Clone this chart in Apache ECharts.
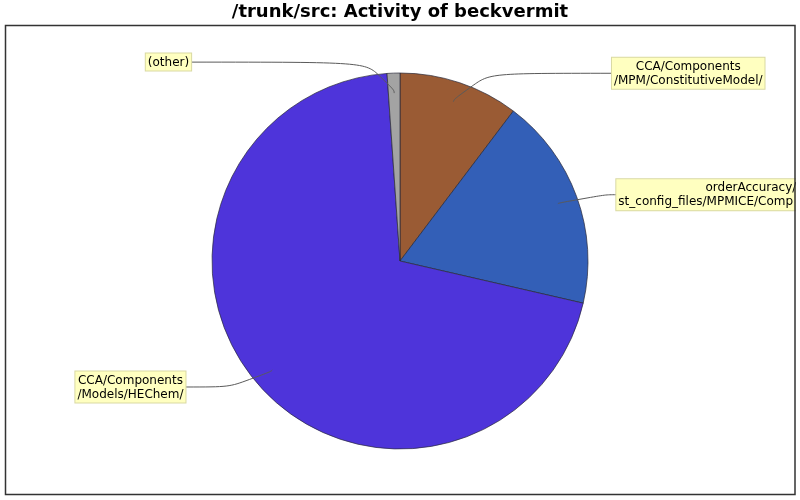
<!DOCTYPE html>
<html>
<head>
<meta charset="utf-8">
<script src="https://cdn.jsdelivr.net/npm/echarts@6/dist/echarts.min.js"></script>
<style>html,body{margin:0;padding:0;background:#fff}#c{width:800px;height:500px}</style>
</head>
<body>
<div id="c"></div>
<script>
// Data
const categories = [
  'CCA/Components/MPM/ConstitutiveModel/',
  'orderAccuracy/test_config_files/MPMICE/Components/',
  'CCA/Components/Models/HEChem/',
  '(other)'
];
const labelTexts = [
  '{c|CCA/Components}\n{c|/MPM/ConstitutiveModel/}',
  '{r|orderAccuracy/}\n{l|st_config_files/MPMICE/Comp}',
  '{c|CCA/Components}\n{c|/Models/HEChem/}',
  '{c|(other)}'
];
const values = [103, 183, 703, 11];
const colors = ['#9a5b34', '#335fb7', '#4e34da', '#a3a3a3'];

// label guide geometry (layout only)
const lineLen = [30, 26, 26, 31];
const lineLen2 = [149, 34, 67, 202];

const chart = echarts.init(document.getElementById('c'), null, {renderer: 'canvas'});
const font = 'DejaVu Sans';

const visibleData = categories.map((n, i) => ({
  name: n, value: values[i], itemStyle: {color: colors[i]}
}));
const labelData = categories.map((n, i) => ({
  name: n, value: values[i],
  label: {formatter: labelTexts[i], padding: i === 1 ? [2, 0, 1, 2] : [2, 2, 1, 2], width: i === 1 ? 178 : null},
  labelLine: {length: lineLen[i], length2: lineLen2[i]}
}));

chart.setOption({
  backgroundColor: '#ffffff',
  animation: false,
  title: {
    text: '/trunk/src: Activity of beckvermit',
    left: 'center', top: 1, padding: 0,
    textStyle: {fontFamily: font, fontWeight: 'bold', fontSize: 18, color: '#000', lineHeight: 22}
  },
  series: [
    {
      type: 'pie',
      center: [400, 261],
      radius: 188,
      startAngle: 90,
      clockwise: true,
      silent: true,
      label: {show: false},
      labelLine: {show: false},
      itemStyle: {borderColor: '#2a2a3a', borderWidth: 0.7},
      emphasis: {disabled: true},
      data: visibleData,
      z: 1
    },
    {
      type: 'pie',
      center: [400, 261],
      radius: 168,
      startAngle: 90,
      clockwise: true,
      silent: true,
      avoidLabelOverlap: false,
      itemStyle: {color: 'rgba(0,0,0,0)', borderWidth: 0},
      emphasis: {disabled: true},
      label: {
        show: true,
        position: 'outside',
        alignTo: 'none',
        distanceToLabelLine: 0,
        fontFamily: font,
        fontSize: 12,
        lineHeight: 14,
        color: '#000',
        backgroundColor: '#ffffc0',
        borderColor: '#d9d9a3',
        borderWidth: 1,
        overflow: 'none',
        rich: {
          c: {align: 'center', fontFamily: font, fontSize: 12, lineHeight: 14, color: '#000'},
          r: {align: 'right', fontFamily: font, fontSize: 12, lineHeight: 14, color: '#000'},
          l: {align: 'left', fontFamily: font, fontSize: 12, lineHeight: 14, color: '#000'}
        }
      },
      labelLine: {
        show: true,
        smooth: 0.9,
        minTurnAngle: 0,
        lineStyle: {color: '#5a5a5a', width: 1}
      },
      data: labelData,
      z: 2
    }
  ],
  graphic: [
    {type: 'rect', z: 100, shape: {x: 796, y: 0, width: 10, height: 500}, style: {fill: '#fff'}},
    {type: 'rect', z: 101, shape: {x: 5.5, y: 25.5, width: 789.5, height: 469}, style: {fill: null, stroke: '#333', lineWidth: 1.5}}
  ]
});
</script>
</body>
</html>
